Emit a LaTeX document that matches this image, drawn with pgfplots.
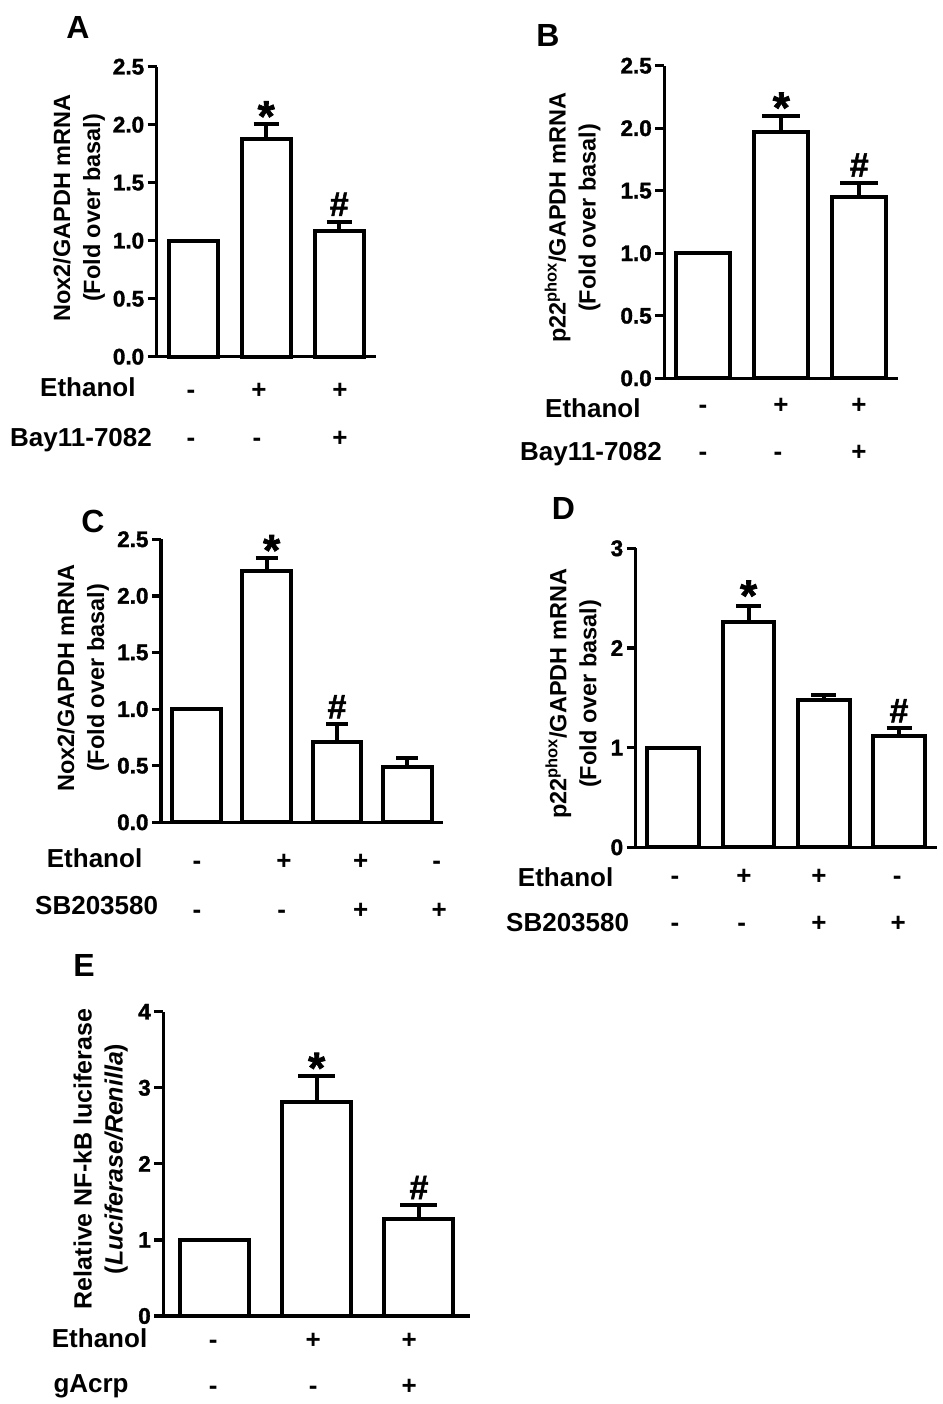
\documentclass[border=0pt]{standalone}
\usepackage{fontspec}
\setmainfont{Liberation Sans}
\newfontfamily\heavy{Liberation Sans}[BoldFeatures={FakeBold=1.5}]
\usepackage{pgfplots}
\pgfplotsset{compat=1.18}

\newcommand\tkl[1]{\mbox{\fontsize{22.5}{22.5}\selectfont\heavy\bfseries #1}}

\pgfplotsset{
  gp/.style={
    scale only axis, anchor=south west,
    axis x line*=bottom, axis y line*=left,
    axis line style={line width=3.4pt, black},
    xtick=\empty,
    ymin=0, xmin=-0.5,
    tick align=outside,
    major tick length=9pt,
    every tick/.style={line width=3.2pt, black},
    major tick style={line width=3.2pt, black},
    ylabel style={font=\fontsize{23.5}{30}\selectfont\bfseries, align=center, anchor=center},
    ybar, bar width=0.68,
    clip=false,
    enlargelimits=false,
  },
  gpbar/.style={draw=black, fill=white, line width=4pt,
     error bars/.cd, y dir=plus, y explicit,
     error bar style={line width=4pt, black},
     error mark options={line width=4pt, black, mark size=#1, rotate=90}},
}
\tikzset{
  star/.style={font=\fontsize{44}{44}\selectfont\heavy\bfseries, anchor=base, yshift=-7pt},
  hash/.style={font=\fontsize{34}{34}\selectfont\heavy\bfseries, anchor=base, yshift=6pt},
  sg/.style={font=\fontsize{26}{26}\selectfont\bfseries, anchor=base},
  rl/.style={font=\fontsize{26}{26}\selectfont\bfseries, anchor=base west, inner sep=0pt},
  pl/.style={font=\fontsize{32}{32}\selectfont\bfseries, anchor=center},
}

\begin{document}
\begin{tikzpicture}
\useasboundingbox (0,0) rectangle (942pt,-1404pt);

% ---------------- A ----------------
\begin{axis}[gp, at={(156.7pt,-356.7pt)}, width=219pt, height=290pt,
  xmax=2.5, ymax=2.5, ytick={0,0.5,1,1.5,2,2.5},
  yticklabels={\tkl{0.0},\tkl{0.5},\tkl{1.0},\tkl{1.5},\tkl{2.0},\tkl{2.5}}, bar width=0.67,
  ylabel={Nox2/GAPDH mRNA\\(Fold over basal)},
  ylabel style={at={(axis description cs:-0.355,0.513)}}]
\addplot[gpbar=12.5] coordinates {(0,1.00) +- (0,0) (1,1.875) +- (0,0.128) (2,1.085) +- (0,0.078)};
\node[star] at (axis cs:1,2.003) {*};
\node[hash] at (axis cs:2,1.163) {\#};
\end{axis}

% ---------------- B ----------------
\begin{axis}[gp, at={(664.3pt,-378.3pt)}, width=234pt, height=312.6pt,
  xmax=2.5, ymax=2.5, ytick={0,0.5,1,1.5,2,2.5},
  yticklabels={\tkl{0.0},\tkl{0.5},\tkl{1.0},\tkl{1.5},\tkl{2.0},\tkl{2.5}}, bar width=0.69,
  ylabel={p22\textsuperscript{phox}/GAPDH mRNA\\(Fold over basal)},
  ylabel style={at={(axis description cs:-0.392,0.513)}}]
\addplot[gpbar=19] coordinates {(0,1.00) +- (0,0) (1,1.968) +- (0,0.132) (2,1.453) +- (0,0.112)};
\node[star] at (axis cs:1,2.10) {*};
\node[hash] at (axis cs:2,1.565) {\#};
\end{axis}

% ---------------- C ----------------
\begin{axis}[gp, at={(161pt,-822.3pt)}, width=281.7pt, height=283pt,
  xmax=3.5, ymax=2.5, ytick={0,0.5,1,1.5,2,2.5},
  yticklabels={\tkl{0.0},\tkl{0.5},\tkl{1.0},\tkl{1.5},\tkl{2.0},\tkl{2.5}}, bar width=0.69,
  ylabel={Nox2/GAPDH mRNA\\(Fold over basal)},
  ylabel style={at={(axis description cs:-0.277,0.51)}}]
\addplot[gpbar=11] coordinates {(0,1.00) +- (0,0) (1,2.22) +- (0,0.112) (2,0.707) +- (0,0.159) (3,0.491) +- (0,0.074)};
\node[star, xshift=5pt] at (axis cs:1,2.332) {*};
\node[hash] at (axis cs:2,0.866) {\#};
\end{axis}

% ---------------- D ----------------
\begin{axis}[gp, at={(635.7pt,-847.3pt)}, width=301pt, height=299pt,
  xmax=3.5, ymax=3, ytick={0,1,2,3}, yticklabels={\tkl{0},\tkl{1},\tkl{2},\tkl{3}}, bar width=0.687,
  ylabel={p22\textsuperscript{phox}/GAPDH mRNA\\(Fold over basal)},
  ylabel style={at={(axis description cs:-0.207,0.513)}}]
\addplot[gpbar=12.5] coordinates {(0,1.00) +- (0,0) (1,2.257) +- (0,0.167) (2,1.477) +- (0,0.05) (3,1.12) +- (0,0.074)};
\node[star, yshift=2pt] at (axis cs:1,2.424) {*};
\node[hash] at (axis cs:3,1.194) {\#};
\end{axis}

% ---------------- E ----------------
\begin{axis}[gp, at={(163.3pt,-1316pt)}, width=306.7pt, height=304.3pt,
  xmax=2.5, ymax=4, ytick={0,1,2,3,4}, yticklabels={\tkl{0},\tkl{1},\tkl{2},\tkl{3},\tkl{4}}, bar width=0.675,
  ylabel={Relative NF-kB luciferase\\(\textit{Luciferase/Renilla})},
  ylabel style={font=\fontsize{25}{31}\selectfont\bfseries, at={(axis description cs:-0.204,0.516)}}]
\addplot[gpbar=18.5] coordinates {(0,1.00) +- (0,0) (1,2.816) +- (0,0.338) (2,1.271) +- (0,0.188)};
\node[star] at (axis cs:1,3.154) {*};
\node[hash] at (axis cs:2,1.459) {\#};
\end{axis}

% ---------------- panel letters ----------------
\node[pl] at (78pt,-27pt) {A};
\node[pl] at (548pt,-35pt) {B};
\node[pl] at (93pt,-521.7pt) {C};
\node[pl] at (563.3pt,-508.3pt) {D};
\node[pl] at (84pt,-965pt) {E};

% ---------------- treatment rows ----------------
% A
\node[rl] at (40pt,-396pt) {Ethanol};
\node[rl] at (10pt,-446pt) {Bay11-7082};
\node[sg] at (191pt,-398pt) {-};
\node[sg] at (259pt,-398pt) {+};
\node[sg] at (340pt,-398pt) {+};
\node[sg] at (191pt,-446pt) {-};
\node[sg] at (257pt,-446pt) {-};
\node[sg] at (340pt,-446pt) {+};
% B
\node[rl] at (545pt,-417pt) {Ethanol};
\node[rl] at (520pt,-460pt) {Bay11-7082};
\node[sg] at (703pt,-413pt) {-};
\node[sg] at (781pt,-413pt) {+};
\node[sg] at (859pt,-413pt) {+};
\node[sg] at (703pt,-460pt) {-};
\node[sg] at (778pt,-460pt) {-};
\node[sg] at (859pt,-460pt) {+};
% C
\node[rl] at (46.7pt,-867pt) {Ethanol};
\node[rl] at (35pt,-914pt) {SB203580};
\node[sg] at (197pt,-869.7pt) {-};
\node[sg] at (284pt,-869.7pt) {+};
\node[sg] at (360.7pt,-869.7pt) {+};
\node[sg] at (436.7pt,-869.7pt) {-};
\node[sg] at (197pt,-918pt) {-};
\node[sg] at (281.7pt,-918pt) {-};
\node[sg] at (360.7pt,-918pt) {+};
\node[sg] at (439.3pt,-918pt) {+};
% D
\node[rl] at (517.7pt,-886pt) {Ethanol};
\node[rl] at (506pt,-931pt) {SB203580};
\node[sg] at (675pt,-884.7pt) {-};
\node[sg] at (744pt,-884.7pt) {+};
\node[sg] at (819pt,-884.7pt) {+};
\node[sg] at (897.3pt,-884.7pt) {-};
\node[sg] at (675pt,-931.3pt) {-};
\node[sg] at (741.7pt,-931.3pt) {-};
\node[sg] at (819pt,-931.3pt) {+};
\node[sg] at (898.3pt,-931.3pt) {+};
% E
\node[rl] at (51.7pt,-1347pt) {Ethanol};
\node[rl] at (53.3pt,-1392pt) {gAcrp};
\node[sg] at (213.3pt,-1348pt) {-};
\node[sg] at (313.3pt,-1348pt) {+};
\node[sg] at (409.3pt,-1348pt) {+};
\node[sg] at (213.3pt,-1394.7pt) {-};
\node[sg] at (313.3pt,-1394.7pt) {-};
\node[sg] at (409.3pt,-1394.7pt) {+};
\end{tikzpicture}
\end{document}
